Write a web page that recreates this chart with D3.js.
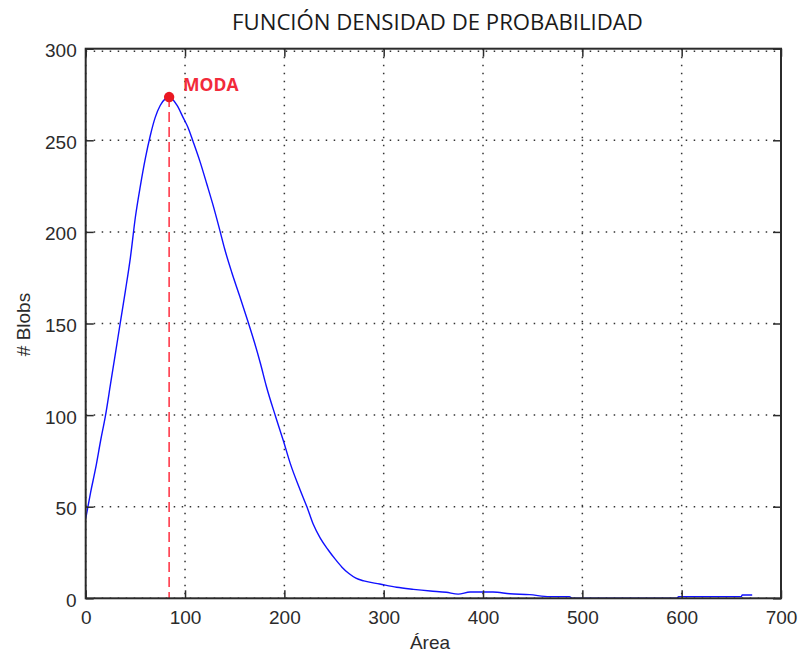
<!DOCTYPE html>
<html>
<head>
<meta charset="utf-8">
<script src="https://cdn.jsdelivr.net/npm/d3@7"></script>
<style>
  html, body { margin: 0; padding: 0; background: #fff; }
  svg { display: block; }
</style>
</head>
<body>
<svg id="chart" width="799" height="652"></svg>
<script>
// Blob area (x) and number of blobs (y) of the estimated density curve
const areaValues = [0, 5, 10, 15, 20, 25, 30, 35, 40, 45, 50, 55, 60, 65, 70, 75, 80, 84,
  92, 98, 103, 108, 115, 122, 128, 134, 140, 147, 155, 164, 170, 176, 182, 191, 199, 206,
  216, 223, 229, 236, 244, 251, 258, 265, 272, 280, 296, 313, 330, 347, 363, 375, 387, 410, 427,
  447, 467, 487, 490, 595, 597, 660, 661, 671];
const blobCounts = [43.5, 58, 71, 86, 100, 117, 134, 151, 168, 186, 208, 225, 240, 252.5, 262.5,
  269, 272.6, 273.6, 269, 262.5, 257, 249.5, 238.5, 226, 215, 203, 190.5, 178, 165, 150,
  139.5, 128, 115.5, 99.5, 86, 73.5, 59, 49.5, 40.5, 33, 26.5, 21.5, 17, 13.5, 11, 9.5,
  7.8, 6, 4.9, 4, 3.3, 2.3, 3.4, 3.4, 2.5, 2, 0.9, 0.9, 0, 0, 0.9, 0.9, 1.8, 1.8];

// Mode of the distribution
const modeArea = 84;
const modeCount = 273.6;
const modeLabel = "MODA";

const xTicks = [0, 100, 200, 300, 400, 500, 600, 700];
const yTicks = [0, 50, 100, 150, 200, 250, 300];

const titleText = "FUNCIÓN DENSIDAD DE PROBABILIDAD";
const xLabelText = "Área";
const yLabelText = "# Blobs";

(function draw() {
  const svg = d3.select("#chart");
  const plotLeft = 85.7, plotRight = 781, plotTop = 48.7, plotBottom = 598.3;
  const w = plotRight - plotLeft, h = plotBottom - plotTop;

  const x = d3.scaleLinear().domain([0, 700]).range([0, w]);
  const y = d3.scaleLinear().domain([0, 300]).range([h, 0]);

  const g = svg.append("g").attr("transform", `translate(${plotLeft},${plotTop})`);

  const tickFont = "'Liberation Sans', Arial, sans-serif";
  const ink = "#2b2b2b";

  // Dotted grid
  g.append("g").selectAll("line").data(xTicks).join("line")
    .attr("x1", d => x(d)).attr("x2", d => x(d))
    .attr("y1", 0).attr("y2", h)
    .attr("stroke", "#333").attr("stroke-width", 1.5)
    .attr("stroke-dasharray", "1.5,6.5");
  g.append("g").selectAll("line").data(yTicks).join("line")
    .attr("x1", 0).attr("x2", w)
    .attr("y1", d => y(d) + (d === 300 ? 2.5 : 0)).attr("y2", d => y(d) + (d === 300 ? 2.5 : 0))
    .attr("stroke", "#333").attr("stroke-width", 1.5)
    .attr("stroke-dasharray", "1.5,6.5");

  // Density curve
  const pts = areaValues.map((a, i) => [a, blobCounts[i]]);
  g.append("path")
    .datum(pts)
    .attr("fill", "none")
    .attr("stroke", "#1010ff")
    .attr("stroke-width", 1.4)
    .attr("d", d3.line().curve(d3.curveMonotoneX).x(d => x(d[0])).y(d => y(d[1])));

  // Mode marker: dashed drop line and dot
  g.append("line")
    .attr("x1", x(modeArea)).attr("x2", x(modeArea))
    .attr("y1", y(modeCount)).attr("y2", h)
    .attr("stroke", "#ff3b4b").attr("stroke-width", 1.6)
    .attr("stroke-dasharray", "10,5");
  g.append("circle")
    .attr("cx", x(modeArea)).attr("cy", y(modeCount))
    .attr("r", 5.2).attr("fill", "#ea1822");
  g.append("text")
    .attr("x", x(modeArea) + 14).attr("y", y(modeCount) - 6)
    .attr("font-family", "'Open Sans', 'Noto Sans', sans-serif")
    .attr("font-weight", 700).attr("font-size", 17.5)
    .attr("fill", "#f22a3a")
    .text(modeLabel);

  // Axes with inward ticks on all four sides
  function styleAxis(sel) {
    sel.select(".domain").remove();
    sel.selectAll(".tick line").attr("stroke", ink).attr("stroke-width", 1.5);
    sel.selectAll("text").attr("font-family", tickFont).attr("font-size", 19).attr("fill", ink);
  }
  g.append("g").attr("transform", `translate(0,${h})`)
    .call(d3.axisBottom(x).tickValues(xTicks).tickSize(-8).tickSizeOuter(0).tickPadding(12))
    .call(styleAxis);
  g.append("g")
    .call(d3.axisTop(x).tickValues(xTicks).tickSize(-8).tickSizeOuter(0).tickFormat(""))
    .call(styleAxis);
  const yAx = g.append("g")
    .call(d3.axisLeft(y).tickValues(yTicks).tickSize(-8).tickSizeOuter(0).tickPadding(9))
    .call(styleAxis);
  yAx.selectAll("text").attr("dy", "0.42em");
  g.append("g").attr("transform", `translate(${w},0)`)
    .call(d3.axisRight(y).tickValues(yTicks).tickSize(-8).tickSizeOuter(0).tickFormat(""))
    .call(styleAxis);

  // Axes box
  g.append("rect")
    .attr("x", 0).attr("y", 0).attr("width", w).attr("height", h)
    .attr("fill", "none").attr("stroke", ink).attr("stroke-width", 2);

  // Title and axis labels
  const title = svg.append("text")
    .attr("x", 437.5).attr("y", 30)
    .attr("text-anchor", "middle")
    .attr("font-family", "'Open Sans', 'Noto Sans', sans-serif")
    .attr("font-size", 20)
    .attr("fill", "#1a1a1a")
    .text(titleText);
  const tw = title.node().getComputedTextLength();
  title.attr("font-size", 20 * 411 / tw);

  svg.append("text")
    .attr("x", 430).attr("y", 649)
    .attr("text-anchor", "middle")
    .attr("font-family", tickFont).attr("font-size", 19).attr("fill", ink)
    .text(xLabelText);

  svg.append("text")
    .attr("transform", `translate(30,${(plotTop + plotBottom) / 2 + 1}) rotate(-90)`)
    .attr("text-anchor", "middle")
    .attr("font-family", tickFont).attr("font-size", 19).attr("fill", ink)
    .text(yLabelText);
})();
</script>
</body>
</html>
